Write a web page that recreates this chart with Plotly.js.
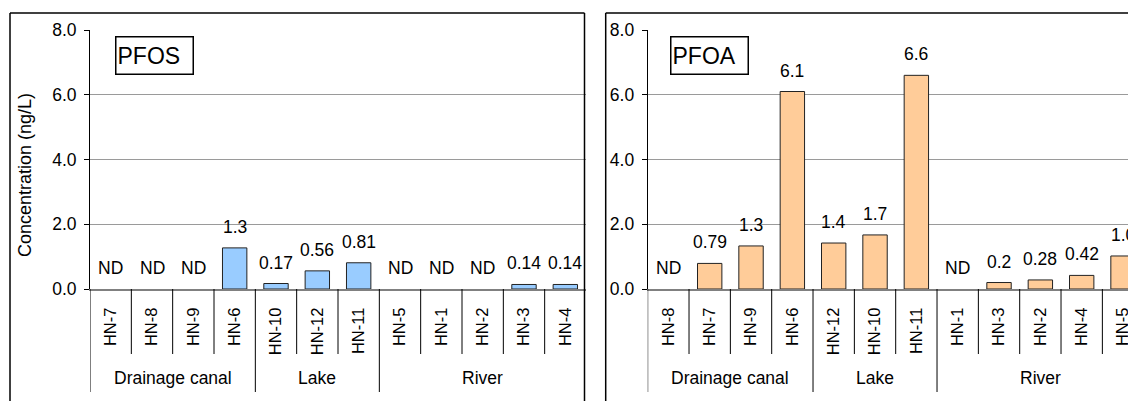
<!DOCTYPE html>
<html>
<head>
<meta charset="utf-8">
<script src="https://cdn.plot.ly/plotly-3.0.1.min.js"></script>
<style>
  html, body { margin: 0; padding: 0; background: #fff; overflow: hidden; width: 1128px; height: 401px; }
  #chart { width: 1160px; height: 401px; }
</style>
</head>
<body>
<div id="chart"></div>
<script>
// ---------- data ----------
const pfosSites  = ['HN-7','HN-8','HN-9','HN-6','HN-10','HN-12','HN-11','HN-5','HN-1','HN-2','HN-3','HN-4'];
const pfosValues = [null, null, null, 1.27, 0.17, 0.56, 0.81, null, null, null, 0.14, 0.14];
const pfosLabels = ['ND','ND','ND','1.3','0.17','0.56','0.81','ND','ND','ND','0.14','0.14'];

const pfoaSites  = ['HN-8','HN-7','HN-9','HN-6','HN-12','HN-10','HN-11','HN-1','HN-3','HN-2','HN-4','HN-5'];
const pfoaValues = [null, 0.79, 1.33, 6.1, 1.42, 1.67, 6.6, null, 0.2, 0.28, 0.42, 1.02];
const pfoaLabels = ['ND','0.79','1.3','6.1','1.4','1.7','6.6','ND','0.2','0.28','0.42','1.0'];

const groupNames = ['Drainage canal','Lake','River'];
const groupSizes = [4, 3, 5];

const yTickVals = [0, 2, 4, 6, 8];
const yTickText = ['0.0','2.0','4.0','6.0','8.0'];

const panelNames = ['PFOS','PFOA'];
const yTitle = 'Concentration (ng/L)';

// ---------- layout helpers ----------
const W = 1160, H = 401;
const px = v => v / W;
const py = v => 1 - v / H;
const FONT = 'Liberation Sans, Arial, sans-serif';

const yDomain = [py(289), py(30)];

const traces = [
  { type: 'bar', x: pfosSites, y: pfosValues, xaxis: 'x', yaxis: 'y',
    marker: { color: '#99CCFF', line: { color: '#222222', width: 1 } }, hoverinfo: 'none' },
  { type: 'bar', x: pfoaSites, y: pfoaValues, xaxis: 'x2', yaxis: 'y2',
    marker: { color: '#FFCC99', line: { color: '#222222', width: 1 } }, hoverinfo: 'none' }
];

function xAxis(domain, sites, anchor) {
  return {
    domain: domain, anchor: anchor, type: 'category',
    categoryorder: 'array', categoryarray: sites,
    range: [-0.5, sites.length - 0.5],
    tickangle: -90, ticks: '', showgrid: false, zeroline: false,
    showline: true, linecolor: '#808080', linewidth: 2,
    tickfont: { family: FONT, size: 16.5, color: '#000' },
    ticklabelstandoff: 10, fixedrange: true
  };
}
function yAxis(anchor) {
  return {
    domain: yDomain, anchor: anchor, range: [0, 8],
    tickmode: 'array', tickvals: yTickVals, ticktext: yTickText,
    ticks: 'outside', ticklen: 5, tickcolor: '#000', tickwidth: 1,
    showline: true, linecolor: '#000', linewidth: 1,
    showgrid: true, gridcolor: '#9a9a9a', gridwidth: 1, zeroline: false,
    tickfont: { family: FONT, size: 17.5, color: '#000' },
    ticklabelstandoff: 4, fixedrange: true
  };
}

const shapes = [];
const annotations = [];

function addPanel(xref, yref, sites, values, labels, boxCenterX, name) {
  let cum = [0];
  groupSizes.forEach(s => cum.push(cum[cum.length - 1] + s));
  for (let i = 0; i < sites.length; i++) {
    const isLong = cum.indexOf(i) >= 0;
    shapes.push({ type: 'line', xref: xref, yref: 'paper',
      x0: i - 0.5, x1: i - 0.5, y0: py(289), y1: py(isLong ? 392 : 354),
      line: { color: '#000', width: 1 } });
  }
  groupNames.forEach((g, k) => {
    annotations.push({ xref: xref, yref: 'paper', x: (cum[k] + cum[k + 1] - 1) / 2, y: py(378),
      text: g, showarrow: false, xanchor: 'center', yanchor: 'middle',
      font: { family: FONT, size: 17.5, color: '#000' } });
  });
  sites.forEach((s, i) => {
    annotations.push({ xref: xref, yref: yref, x: s, y: values[i] || 0,
      text: labels[i], showarrow: false, xanchor: 'center', yanchor: 'bottom', yshift: 9,
      font: { family: FONT, size: 17.5, color: '#000' } });
  });
  annotations.push({ xref: 'paper', yref: 'paper', x: px(boxCenterX), y: py(56),
    text: name, showarrow: false, xanchor: 'center', yanchor: 'middle',
    width: 74, height: 34, borderpad: 1, bordercolor: '#000', borderwidth: 1.5,
    align: 'left', font: { family: FONT, size: 23, color: '#000' } });
}

addPanel('x', 'y', pfosSites, pfosValues, pfosLabels, 154, panelNames[0]);
addPanel('x2', 'y2', pfoaSites, pfoaValues, pfoaLabels, 710, panelNames[1]);

annotations.push({ xref: 'paper', yref: 'paper', x: px(25), y: py(175),
  text: yTitle, textangle: -90, showarrow: false, xanchor: 'center', yanchor: 'middle',
  font: { family: FONT, size: 18, color: '#000' } });

const bl = { color: '#000', width: 1.5 };
shapes.push({ type: 'line', xref: 'paper', yref: 'paper', x0: px(10), x1: px(10), y0: py(13), y1: -0.1, line: bl });
shapes.push({ type: 'line', xref: 'paper', yref: 'paper', x0: px(10), x1: px(584.5), y0: py(13), y1: py(13), line: bl });
shapes.push({ type: 'line', xref: 'paper', yref: 'paper', x0: px(584.5), x1: px(584.5), y0: py(13), y1: -0.1, line: bl });
shapes.push({ type: 'line', xref: 'paper', yref: 'paper', x0: px(605.7), x1: px(605.7), y0: py(13), y1: -0.1, line: bl });
shapes.push({ type: 'line', xref: 'paper', yref: 'paper', x0: px(605.7), x1: 1.1, y0: py(13), y1: py(13), line: bl });

const layout = {
  width: W, height: H,
  margin: { l: 0, r: 0, t: 0, b: 0, pad: 0 },
  paper_bgcolor: '#fff', plot_bgcolor: '#fff',
  showlegend: false, bargap: 0.41,
  font: { family: FONT, size: 17, color: '#000' },
  xaxis: xAxis([px(90), px(586)], pfosSites, 'y'),
  yaxis: yAxis('x'),
  xaxis2: xAxis([px(647.7), px(1143.7)], pfoaSites, 'y2'),
  yaxis2: yAxis('x2'),
  shapes: shapes,
  annotations: annotations
};

Plotly.newPlot('chart', traces, layout, { displayModeBar: false, staticPlot: true });
</script>
</body>
</html>
